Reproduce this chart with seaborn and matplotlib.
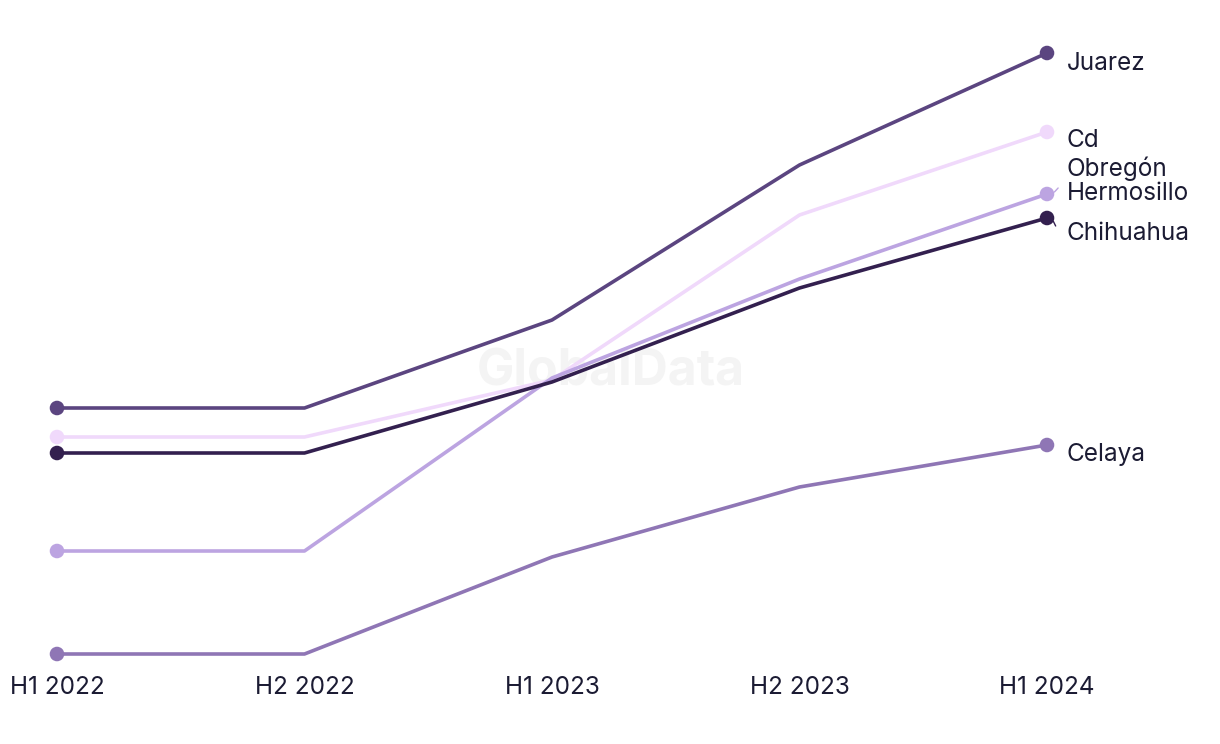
import matplotlib
matplotlib.use("Agg")
import matplotlib.pyplot as plt
import seaborn as sns
import pandas as pd

periods = ["H1 2022", "H2 2022", "H1 2023", "H2 2023", "H1 2024"]
juarez = [29.2, 29.2, 38.0, 53.5, 64.7]
cd_obregon = [26.3, 26.3, 32.0, 48.5, 56.8]
hermosillo = [14.9, 14.9, 32.2, 42.1, 50.6]
chihuahua = [24.7, 24.7, 31.8, 41.2, 48.2]
celaya = [4.6, 4.6, 14.3, 21.3, 25.5]

series = {
    "Juarez": juarez,
    "Cd\nObregón": cd_obregon,
    "Hermosillo": hermosillo,
    "Chihuahua": chihuahua,
    "Celaya": celaya,
}
colors = {
    "Juarez": "#5b4580",
    "Cd\nObregón": "#f0d9fb",
    "Hermosillo": "#bca4e1",
    "Chihuahua": "#33204f",
    "Celaya": "#8f76b5",
}

rows = []
for name, vals in series.items():
    for i, (p, v) in enumerate(zip(periods, vals)):
        rows.append({"city": name, "period": p, "x": i, "value": v})
df = pd.DataFrame(rows)

sns.set_theme(style="white")
plt.rcParams["font.family"] = ["Inter", "DejaVu Sans"]

fig = plt.figure(figsize=(12.2, 7.44), dpi=100)
ax = fig.add_axes([57 / 1220, 90 / 744, 990 / 1220, 601 / 744])

ax.text(611 / 1220, 1 - 372 / 744, "GlobalData", ha="center", va="center",
        transform=fig.transFigure, fontsize=36, fontweight="bold",
        color="#f4f4f4", zorder=0)

sns.lineplot(data=df, x="x", y="value", hue="city", palette=colors, linewidth=2.6,
             legend=False, ax=ax, sort=False)
for line in ax.lines:
    line.set_clip_on(False)
    line.set_zorder(3)
ends = df[df["x"].isin([0, 4])]
sns.scatterplot(data=ends, x="x", y="value", hue="city", palette=colors, s=110,
                edgecolor="none", legend=False, ax=ax, zorder=5)
for c in ax.collections:
    c.set_clip_on(False)

ax.set_xlim(0, 4)
ax.set_ylim(4.6, 64.7)
ax.set_xticks(range(len(periods)))
ax.set_xticklabels(periods, fontsize=17.5, color="#1b1b33")
ax.tick_params(axis="x", length=0, pad=16)
ax.set_yticks([])
ax.set_xlabel("")
ax.set_ylabel("")
for s in ax.spines.values():
    s.set_visible(False)

# end labels (manually de-overlapped positions)
label_y = {
    "Juarez": 63.7,
    "Cd\nObregón": 54.5,
    "Hermosillo": 50.6,
    "Chihuahua": 46.6,
    "Celaya": 24.6,
}
for name in series:
    ax.text(4 + 20 / 247.5, label_y[name], name, ha="left", va="center",
            fontsize=17.5, color="#1b1b33", linespacing=1.2, clip_on=False)
ax.plot([4.03, 4.045], [hermosillo[-1] + 0.2, hermosillo[-1] + 0.6],
        color=colors["Hermosillo"], lw=1, clip_on=False)
ax.plot([4.025, 4.035], [chihuahua[-1] - 0.3, chihuahua[-1] - 0.8],
        color=colors["Chihuahua"], lw=1, clip_on=False)

fig.savefig("out.png", dpi=100)
